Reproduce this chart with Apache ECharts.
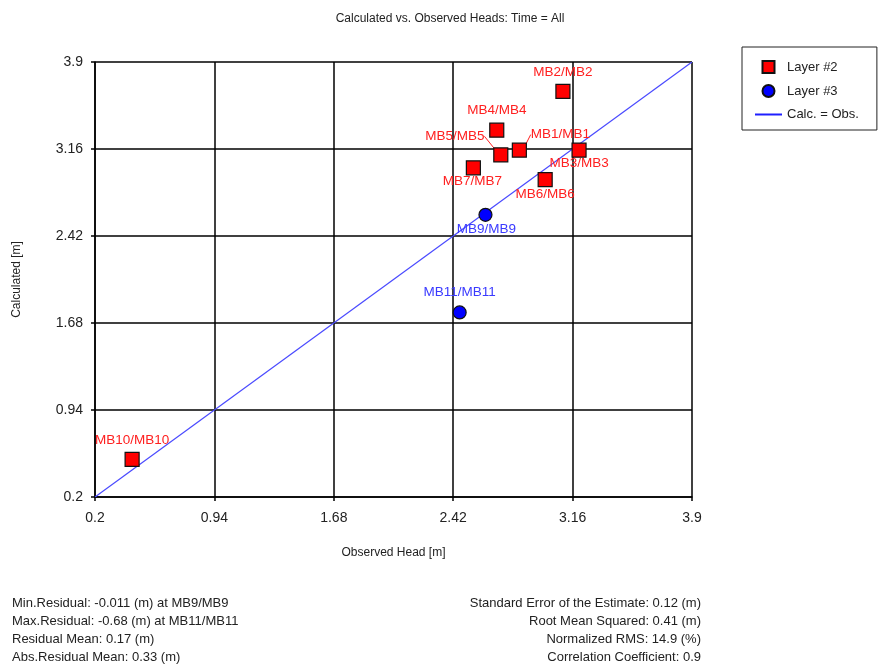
<!DOCTYPE html>
<html>
<head>
<meta charset="utf-8">
<script src="https://cdn.jsdelivr.net/npm/echarts@6/dist/echarts.min.js"></script>
<style>
  html, body { margin: 0; padding: 0; background: #fff; }
  #chart { width: 894px; height: 669px; }
</style>
</head>
<body>
<div id="chart"></div>
<script>
// Observation wells: names, observed and calculated heads [m]
const layer2Names = ['MB2/MB2', 'MB4/MB4', 'MB5/MB5', 'MB1/MB1', 'MB3/MB3', 'MB7/MB7', 'MB6/MB6', 'MB10/MB10'];
const layer2Observed = [3.10, 2.69, 2.715, 2.83, 3.20, 2.545, 2.99, 0.43];
const layer2Calculated = [3.65, 3.32, 3.11, 3.15, 3.15, 3.00, 2.90, 0.52];

const layer3Names = ['MB9/MB9', 'MB11/MB11'];
const layer3Observed = [2.62, 2.46];
const layer3Calculated = [2.60, 1.77];

// Axis range shared by both axes and the 1:1 line
const axisMin = 0.2;
const axisMax = 3.9;
const axisStep = 0.74;

const statsLeft = [
  'Min.Residual: -0.011 (m) at MB9/MB9',
  'Max.Residual: -0.68 (m) at MB11/MB11',
  'Residual Mean: 0.17 (m)',
  'Abs.Residual Mean: 0.33 (m)'
];
const statsRight = [
  'Standard Error of the Estimate: 0.12 (m)',
  'Root Mean Squared: 0.41 (m)',
  'Normalized RMS: 14.9 (%)',
  'Correlation Coefficient: 0.9'
];

// Label placement around each marker (pixel shifts from the default "top" spot)
const labelShift = {
  'MB2/MB2': [0, 0], 'MB4/MB4': [0, 0], 'MB5/MB5': [-46, 1], 'MB1/MB1': [41, 4],
  'MB3/MB3': [0, 33], 'MB7/MB7': [-1, 33], 'MB6/MB6': [0, 34], 'MB10/MB10': [0, 1],
  'MB9/MB9': [1, 34], 'MB11/MB11': [0, -1]
};
const withLeader = ['MB5/MB5', 'MB1/MB1'];

const FONT = 'Liberation Sans';

function buildPoints(names, xs, ys) {
  return names.map((n, i) => ({
    name: n,
    value: [xs[i], ys[i]],
    labelLine: { show: withLeader.indexOf(n) >= 0 }
  }));
}

const fmt = v => String(parseFloat(v.toFixed(2)));

const chart = echarts.init(document.getElementById('chart'), null, { renderer: 'canvas' });

const textLines = [];
statsLeft.forEach((t, i) => textLines.push({
  type: 'text', left: 12, top: 597 + i * 18,
  style: { text: t, fill: '#222', font: '13px "' + FONT + '"' }
}));
statsRight.forEach((t, i) => textLines.push({
  type: 'text', right: 193, top: 597 + i * 18,
  style: { text: t, fill: '#222', font: '13px "' + FONT + '"', textAlign: 'right' }
}));

const axisCommon = {
  type: 'value',
  min: axisMin,
  max: axisMax,
  interval: axisStep,
  axisLine: { show: true, lineStyle: { color: '#000', width: 1.5 } },
  axisTick: { show: true, length: 4, lineStyle: { color: '#000', width: 1.5 } },
  splitLine: { show: true, lineStyle: { color: '#000', width: 1.5 } },
  nameLocation: 'middle',
  nameTextStyle: { color: '#222', fontSize: 12, fontFamily: FONT }
};

chart.setOption({
  animation: false,
  backgroundColor: '#fff',
  title: {
    text: 'Calculated vs. Observed Heads: Time = All',
    left: 445, top: 8, textAlign: 'center',
    textStyle: { fontSize: 12, fontWeight: 'normal', color: '#222', fontFamily: FONT }
  },
  grid: { left: 95, top: 62, right: 202, bottom: 172, containLabel: false },
  legend: {
    orient: 'vertical',
    left: 742, top: 47,
    padding: [13, 18, 9, 13],
    itemGap: 10,
    itemWidth: 27,
    itemHeight: 12,
    borderColor: '#222',
    borderWidth: 1,
    borderRadius: 0,
    textStyle: { fontSize: 13, color: '#222', fontFamily: FONT },
    data: [
      { name: 'Layer #2', icon: 'path://M0,0H12V12H0Z' },
      { name: 'Layer #3', icon: 'circle' },
      { name: 'Calc. = Obs.', icon: 'path://M0,0H27V2H0Z', itemStyle: { color: '#1f1fff' } }
    ]
  },
  xAxis: Object.assign({}, axisCommon, {
    name: 'Observed Head [m]',
    nameGap: 50,
    axisLabel: { formatter: fmt, margin: 14, fontSize: 14, color: '#222', fontFamily: FONT }
  }),
  yAxis: Object.assign({}, axisCommon, {
    name: 'Calculated [m]',
    nameGap: 72,
    axisLabel: { formatter: fmt, margin: 12, fontSize: 14, color: '#222', fontFamily: FONT }
  }),
  series: [
    {
      name: 'Calc. = Obs.',
      type: 'line',
      symbol: 'none',
      z: 1,
      lineStyle: { color: '#4a4aff', width: 1.2 },
      itemStyle: { color: '#4a4aff' },
      data: [[axisMin, axisMin], [axisMax, axisMax]]
    },
    {
      name: 'Layer #2',
      type: 'scatter',
      symbol: 'rect',
      symbolSize: 14,
      z: 3,
      itemStyle: { color: '#ff0000', borderColor: '#111', borderWidth: 1.2, opacity: 1 },
      label: {
        show: true, position: 'top', distance: 5,
        formatter: p => p.name,
        color: '#ff2020', fontSize: 13.5, fontFamily: FONT
      },
      labelLine: { lineStyle: { color: '#ff2020', width: 1 } },
      labelLayout: p => {
        const s = labelShift[p.text] || [0, 0];
        return { dx: s[0], dy: s[1] };
      },
      data: buildPoints(layer2Names, layer2Observed, layer2Calculated)
    },
    {
      name: 'Layer #3',
      type: 'scatter',
      symbol: 'circle',
      symbolSize: 13,
      z: 3,
      itemStyle: { color: '#0000ff', borderColor: '#111', borderWidth: 1.2, opacity: 1 },
      label: {
        show: true, position: 'top', distance: 5,
        formatter: p => p.name,
        color: '#3a3aff', fontSize: 13.5, fontFamily: FONT
      },
      labelLayout: p => {
        const s = labelShift[p.text] || [0, 0];
        return { dx: s[0], dy: s[1] };
      },
      data: buildPoints(layer3Names, layer3Observed, layer3Calculated)
    }
  ],
  graphic: textLines
});
</script>
</body>
</html>
